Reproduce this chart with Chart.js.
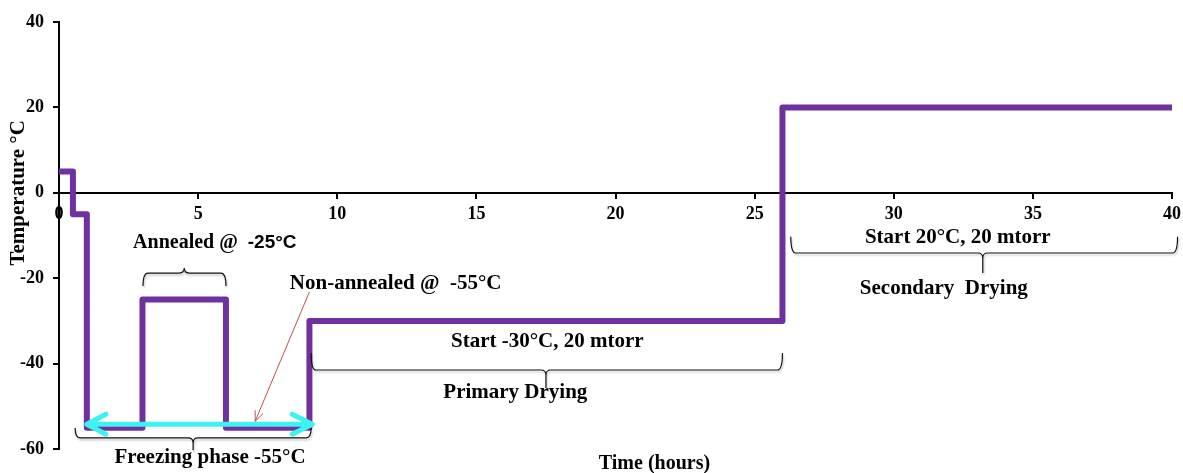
<!DOCTYPE html>
<html>
<head>
<meta charset="utf-8">
<script src="https://cdn.jsdelivr.net/npm/chart.js@4.4.1/dist/chart.umd.min.js"></script>
<style>
  html, body { margin: 0; padding: 0; background: #fff; }
  #wrap { width: 1183px; height: 473px; }
</style>
</head>
<body>
<div id="wrap"><canvas id="c" width="1183" height="473"></canvas></div>
<script>
// Lyophilisation cycle: shelf temperature against time
const timeHours   = [0, 0.5, 0.5, 1, 1, 3, 3, 6, 6, 9, 9, 26, 26, 40];
const temperature = [5, 5, -5, -5, -55, -55, -25, -25, -55, -55, -30, -30, 20, 20];
const xTicks = [0, 5, 10, 15, 20, 25, 30, 35, 40];
const yTicks = [-60, -40, -20, 0, 20, 40];

// Phase annotations (data coordinates)
const phaseLabels = [
  { text: 'Start -30°C, 20 mtorr', x: 17.55, y: -34.9 },
  { text: 'Primary Drying',        x: 16.4,  y: -46.7 },
  { text: 'Start 20°C, 20 mtorr',  x: 32.3,  y: -10.6 },
  { text: 'Secondary  Drying',     x: 31.8,  y: -22.5 },
  { text: 'Freezing phase -55°C',  x: 5.43,  y: -62.1 },
  { text: 'Non-annealed @  -55°C', x: 12.1,  y: -21.3 }
];
// braces: x1, x2, end y, bar y, tip y, tip x
const braces = [
  { x1: 3.02, x2: 6.0,  yE: -21.8, yB: -18.8, yT: -17.6, xT: 4.5 },
  { x1: 0.58, x2: 9.06, yE: -55.1, yB: -57.4, yT: -60.3, xT: 4.82 },
  { x1: 9.06, x2: 26.0, yE: -37.5, yB: -41.5, yT: -45.7, xT: 17.5 },
  { x1: 26.3, x2: 40.2, yE: -10.3, yB: -14.1, yT: -18.8, xT: 33.2 }
];
const freezeArrow = { x1: 1.0, x2: 9.1, y: -54.2 };
const pointer = { x1: 9.0, y1: -23.2, x2: 7.05, y2: -53.5 };

const points = timeHours.map((t, i) => ({ x: t, y: temperature[i] }));

const SERIF = '"Liberation Serif", "Times New Roman", serif';
const SANS = '"Liberation Sans", Arial, sans-serif';

function brace(ctx, xs, ys, b) {
  const x1 = xs.getPixelForValue(b.x1), x2 = xs.getPixelForValue(b.x2);
  const xT = xs.getPixelForValue(b.xT);
  const yE = ys.getPixelForValue(b.yE), yB = ys.getPixelForValue(b.yB), yT = ys.getPixelForValue(b.yT);
  const s = Math.sign(yT - yB);
  const r = Math.min(5, Math.abs(yB - yE), Math.abs(yT - yB));
  ctx.beginPath();
  ctx.moveTo(x1, yE);
  ctx.quadraticCurveTo(x1, yB, x1 + r, yB);
  ctx.lineTo(xT - r, yB);
  ctx.quadraticCurveTo(xT, yB, xT, yB + s * r);
  ctx.lineTo(xT, yT);
  ctx.moveTo(xT, yB + s * r);
  ctx.quadraticCurveTo(xT, yB, xT + r, yB);
  ctx.lineTo(x2 - r, yB);
  ctx.quadraticCurveTo(x2, yB, x2, yE);
  ctx.stroke();
}

const annotate = {
  id: 'annotate',
  afterDatasetsDraw(chart) {
    const ctx = chart.ctx, xs = chart.scales.x, ys = chart.scales.y;
    ctx.save();

    // cyan double arrow across the freezing hold
    const ax1 = xs.getPixelForValue(freezeArrow.x1), ax2 = xs.getPixelForValue(freezeArrow.x2);
    const ay = ys.getPixelForValue(freezeArrow.y);
    ctx.strokeStyle = '#3ff2f2';
    ctx.lineWidth = 5;
    ctx.lineCap = 'round';
    ctx.lineJoin = 'round';
    ctx.beginPath();
    ctx.moveTo(ax1, ay); ctx.lineTo(ax2, ay);
    ctx.moveTo(ax1 + 19, ay - 10); ctx.lineTo(ax1, ay); ctx.lineTo(ax1 + 19, ay + 10);
    ctx.moveTo(ax2 - 20, ay - 10); ctx.lineTo(ax2, ay); ctx.lineTo(ax2 - 20, ay + 10);
    ctx.stroke();

    // red pointer to the non-annealed hold
    const px1 = xs.getPixelForValue(pointer.x1), py1 = ys.getPixelForValue(pointer.y1);
    const px2 = xs.getPixelForValue(pointer.x2), py2 = ys.getPixelForValue(pointer.y2);
    const ang = Math.atan2(py2 - py1, px2 - px1);
    ctx.strokeStyle = '#c0504d';
    ctx.lineWidth = 1;
    ctx.lineCap = 'butt';
    ctx.beginPath();
    ctx.moveTo(px1, py1); ctx.lineTo(px2, py2);
    ctx.moveTo(px2 - 11 * Math.cos(ang - 0.4), py2 - 11 * Math.sin(ang - 0.4));
    ctx.lineTo(px2, py2);
    ctx.lineTo(px2 - 11 * Math.cos(ang + 0.4), py2 - 11 * Math.sin(ang + 0.4));
    ctx.stroke();

    // braces, with a soft drop shadow
    ctx.save();
    ctx.strokeStyle = '#111';
    ctx.lineWidth = 1.2;
    ctx.shadowColor = 'rgba(0,0,0,0.25)';
    ctx.shadowOffsetX = 1;
    ctx.shadowOffsetY = 2;
    ctx.shadowBlur = 2;
    braces.forEach(b => brace(ctx, xs, ys, b));
    ctx.restore();

    // labels
    ctx.fillStyle = '#000';
    ctx.textAlign = 'center';
    ctx.textBaseline = 'middle';
    ctx.font = 'bold 21px ' + SERIF;
    phaseLabels.forEach(l => ctx.fillText(l.text, xs.getPixelForValue(l.x), ys.getPixelForValue(l.y)));

    // "Annealed @ -25°C" (value in a sans face)
    const aPart = 'Annealed @  ', bPart = '-25°C';
    ctx.font = 'bold 20px ' + SERIF;
    const wa = ctx.measureText(aPart).width;
    ctx.font = 'bold 19px ' + SANS;
    const wb = ctx.measureText(bPart).width;
    const acx = xs.getPixelForValue(5.6), acy = ys.getPixelForValue(-11.7);
    const left = acx - (wa + wb) / 2;
    ctx.textAlign = 'left';
    ctx.font = 'bold 20px ' + SERIF;
    ctx.fillText(aPart, left, acy);
    ctx.font = 'bold 19px ' + SANS;
    ctx.fillText(bPart, left + wa, acy);

    // axis titles
    ctx.textAlign = 'center';
    ctx.font = 'bold 20px ' + SERIF;
    ctx.fillText('Time (hours)', xs.getPixelForValue(21.4), ys.getPixelForValue(-63.5));
    ctx.font = 'bold 21px ' + SERIF;
    ctx.translate(19, ys.getPixelForValue(0));
    ctx.rotate(-Math.PI / 2);
    ctx.fillText('Temperature °C', 0, 0);
    ctx.restore();
  }
};

new Chart(document.getElementById('c'), {
  type: 'line',
  data: {
    datasets: [{
      data: points,
      borderColor: '#7030a0',
      borderWidth: 6,
      borderJoinStyle: 'round',
      borderCapStyle: 'butt',
      pointRadius: 0,
      fill: false,
      tension: 0
    }]
  },
  options: {
    responsive: false,
    animation: false,
    layout: { padding: { top: 22, right: 11, bottom: 24, left: 0 } },
    plugins: { legend: { display: false }, tooltip: { enabled: false } },
    scales: {
      x: {
        type: 'linear',
        position: { y: 0 },
        min: 0, max: 40,
        afterBuildTicks: s => { s.ticks = xTicks.map(v => ({ value: v })); },
        afterFit: s => { s.paddingLeft = 0; s.paddingRight = 0; },
        ticks: { color: '#000', padding: 6, maxRotation: 0, font: { family: SERIF, size: 18, weight: 'bold' } },
        grid: { drawOnChartArea: false, color: '#000', lineWidth: 2, tickLength: 5 },
        border: { color: '#000', width: 2 }
      },
      y: {
        type: 'linear',
        min: -60, max: 40,
        afterBuildTicks: s => { s.ticks = yTicks.map(v => ({ value: v })); },
        afterFit: s => { s.width = 59; s.paddingTop = 0; s.paddingBottom = 0; },
        ticks: { color: '#000', padding: 9, font: { family: SERIF, size: 18, weight: 'bold' } },
        grid: { drawOnChartArea: false, color: '#000', lineWidth: 2, tickLength: 6 },
        border: { color: '#000', width: 2 }
      }
    }
  },
  plugins: [annotate]
});
</script>
</body>
</html>
